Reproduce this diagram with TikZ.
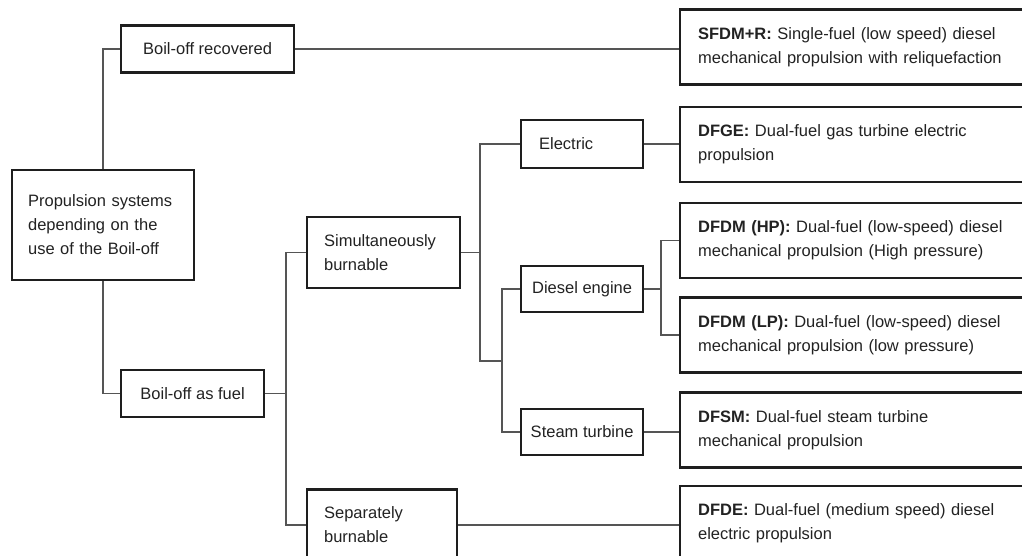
\documentclass[tikz,border=0pt]{standalone}
\usepackage{fontspec}
\setmainfont{Liberation Sans}
\definecolor{boxline}{HTML}{1E1E1E}
\definecolor{conn}{HTML}{555555}
\definecolor{txt}{HTML}{222222}
\begin{document}
\begin{tikzpicture}[x=1pt,y=-1pt,
  every node/.style={font=\fontsize{16.5}{24}\selectfont, text=txt},
  box/.style={draw=boxline, line width=2.2pt, anchor=west, inner ysep=0pt},
  lbox/.style={box, align=left},
  cbox/.style={box, align=center, inner xsep=0pt},
  rbox/.style={box, align=left, inner xsep=18pt, text width=330pt, minimum height=75pt},
  link/.style={draw=conn, line width=1.3pt}]
\useasboundingbox (0,0) rectangle (1022,556);
\clip (0,0) rectangle (1022,556);
% left column
\node[lbox, inner xsep=16pt, text width=150pt, minimum height=110pt] (root) at (11,225)
  {Propulsion systems\\depending on the\\use of the Boil-off};
\node[cbox, minimum width=173pt, minimum height=47pt] (rec) at (120,49) {Boil-off recovered};
\node[cbox, minimum width=143pt, minimum height=47pt] (fuel) at (120,393.5) {Boil-off as fuel};
% second level
\node[lbox, inner xsep=17pt, text width=119pt, minimum height=71pt] (sim) at (306,252.5)
  {Simultaneously\\burnable};
\node[lbox, inner xsep=17pt, text width=116pt, minimum height=71pt] (sep) at (306,525)
  {Separately\\burnable};
% third level
\node[lbox, inner xsep=18pt, text width=86pt, minimum height=48pt] (elec) at (520,144) {Electric};
\node[cbox, minimum width=122pt, minimum height=46pt] (dies) at (520,289) {Diesel engine};
\node[cbox, minimum width=122pt, minimum height=46pt] (steam) at (520,432) {Steam turbine};
% right column
\node[rbox] (sfdm) at (679,47) {\textbf{SFDM+R:} Single-fuel (low speed) diesel\\mechanical propulsion with reliquefaction};
\node[rbox] (dfge) at (679,144.5) {\textbf{DFGE:} Dual-fuel gas turbine electric\\propulsion};
\node[rbox] (hp) at (679,240.5) {\textbf{DFDM (HP):} Dual-fuel (low-speed) diesel\\mechanical propulsion (High pressure)};
\node[rbox] (lp) at (679,335) {\textbf{DFDM (LP):} Dual-fuel (low-speed) diesel\\mechanical propulsion (low pressure)};
\node[rbox] (dfsm) at (679,430) {\textbf{DFSM:} Dual-fuel steam turbine\\mechanical propulsion};
\node[rbox] (dfde) at (679,523.5) {\textbf{DFDE:} Dual-fuel (medium speed) diesel\\electric propulsion};
% connectors
\coordinate (b1) at (286,393.5);
\coordinate (b2) at (480,252.5);
\coordinate (j) at (502,361);
\coordinate (b4) at (661,289);
\draw[link] (root.north) |- (rec.west);
\draw[link] (root.south) |- (fuel.west);
\draw[link] (rec.east) -- (sfdm.west |- rec.east);
\draw[link] (fuel.east) -- (b1);
\draw[link] (b1) |- (sim.west);
\draw[link] (b1) |- (sep.west);
\draw[link] (sim.east) -- (b2);
\draw[link] (b2) |- (elec.west);
\draw[link] (b2) |- (j);
\draw[link] (j) |- (dies.west);
\draw[link] (j) |- (steam.west);
\draw[link] (elec.east) -- (dfge.west |- elec.east);
\draw[link] (dies.east) -- (b4);
\draw[link] (b4) |- (hp.west);
\draw[link] (b4) |- (lp.west);
\draw[link] (steam.east) -- (dfsm.west |- steam.east);
\draw[link] (sep.east) -- (dfde.west |- sep.east);
\end{tikzpicture}
\end{document}
